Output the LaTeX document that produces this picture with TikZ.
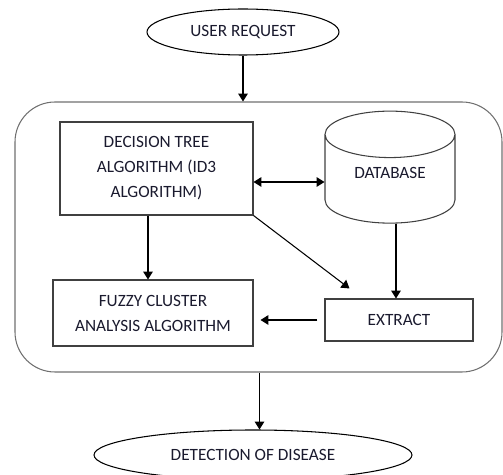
\documentclass[tikz,border=0pt]{standalone}
\usepackage{fontspec}
\setmainfont{Carlito}
\usetikzlibrary{arrows.meta,shapes.geometric,calc}
\definecolor{lineColor}{HTML}{404040}
\definecolor{frameColor}{HTML}{707070}
\definecolor{textColor}{HTML}{1A1A2E}
\begin{document}
\begin{tikzpicture}[->,>={Triangle[length=4.5pt,width=5.5pt]},line width=0.6pt,
		font=\fontsize{9.8}{14.2}\selectfont,
		box/.style={draw=lineColor,-,rectangle,inner sep=0,align=center,text=textColor},
		oval/.style={draw,-,ellipse,inner sep=0,text=textColor},
		dbshape/.style={draw=lineColor,-,cylinder,shape border rotate=90,shape aspect=0.65,inner sep=0,text=textColor}]
	\useasboundingbox (0,0) rectangle (10.06,-9.5);
	\node[oval, minimum width=3.84cm, minimum height=0.92cm] (req) at (4.86,-0.64) {USER REQUEST};
	\node[draw=frameColor, -, rounded corners=0.8cm, minimum width=9.74cm, minimum height=5.4cm] (frame) at (5.17,-4.74) {};
	\node[box, minimum width=3.86cm, minimum height=1.86cm] (tree) at (3.13,-3.37) {DECISION TREE\\ALGORITHM (ID3\\ALGORITHM)};
	\node[dbshape, minimum width=2.6cm, minimum height=2.24cm, text depth=0.24cm] (db) at (7.8,-3.58) {DATABASE};
	\node[box, minimum width=4cm, minimum height=1.32cm] (fuzzy) at (3.06,-6.26) {FUZZY CLUSTER\\ANALYSIS ALGORITHM};
	\node[box, minimum width=2.96cm, minimum height=0.84cm] (extract) at (7.98,-6.4) {EXTRACT};
	\node[oval, minimum width=6.36cm, minimum height=1cm] (det) at (5.06,-9.1) {DETECTION OF DISEASE};
	%\path (tree) edge (extract);
	\draw (req) -- (req |- frame.north);
	\draw[<->] ([yshift=-0.27cm]tree.east) -- ([yshift=-0.27cm]tree.east -| db.west);
	\draw ([xshift=-0.17cm]tree.south) -- ([xshift=-0.17cm]tree.south |- fuzzy.north);
	\draw (tree.south east) -- ([xshift=0.5cm,yshift=0.2cm]extract.north west);
	\draw ([xshift=0.12cm]db.south) -- ([xshift=0.12cm]db.south |- extract.north);
	\draw[shorten <=0.14cm,shorten >=0.14cm] (extract.west) -- (extract.west -| fuzzy.east);
	\draw ([xshift=0.02cm]frame.south) -- ([xshift=0.02cm]frame.south |- det.north);
\end{tikzpicture}
\end{document}
